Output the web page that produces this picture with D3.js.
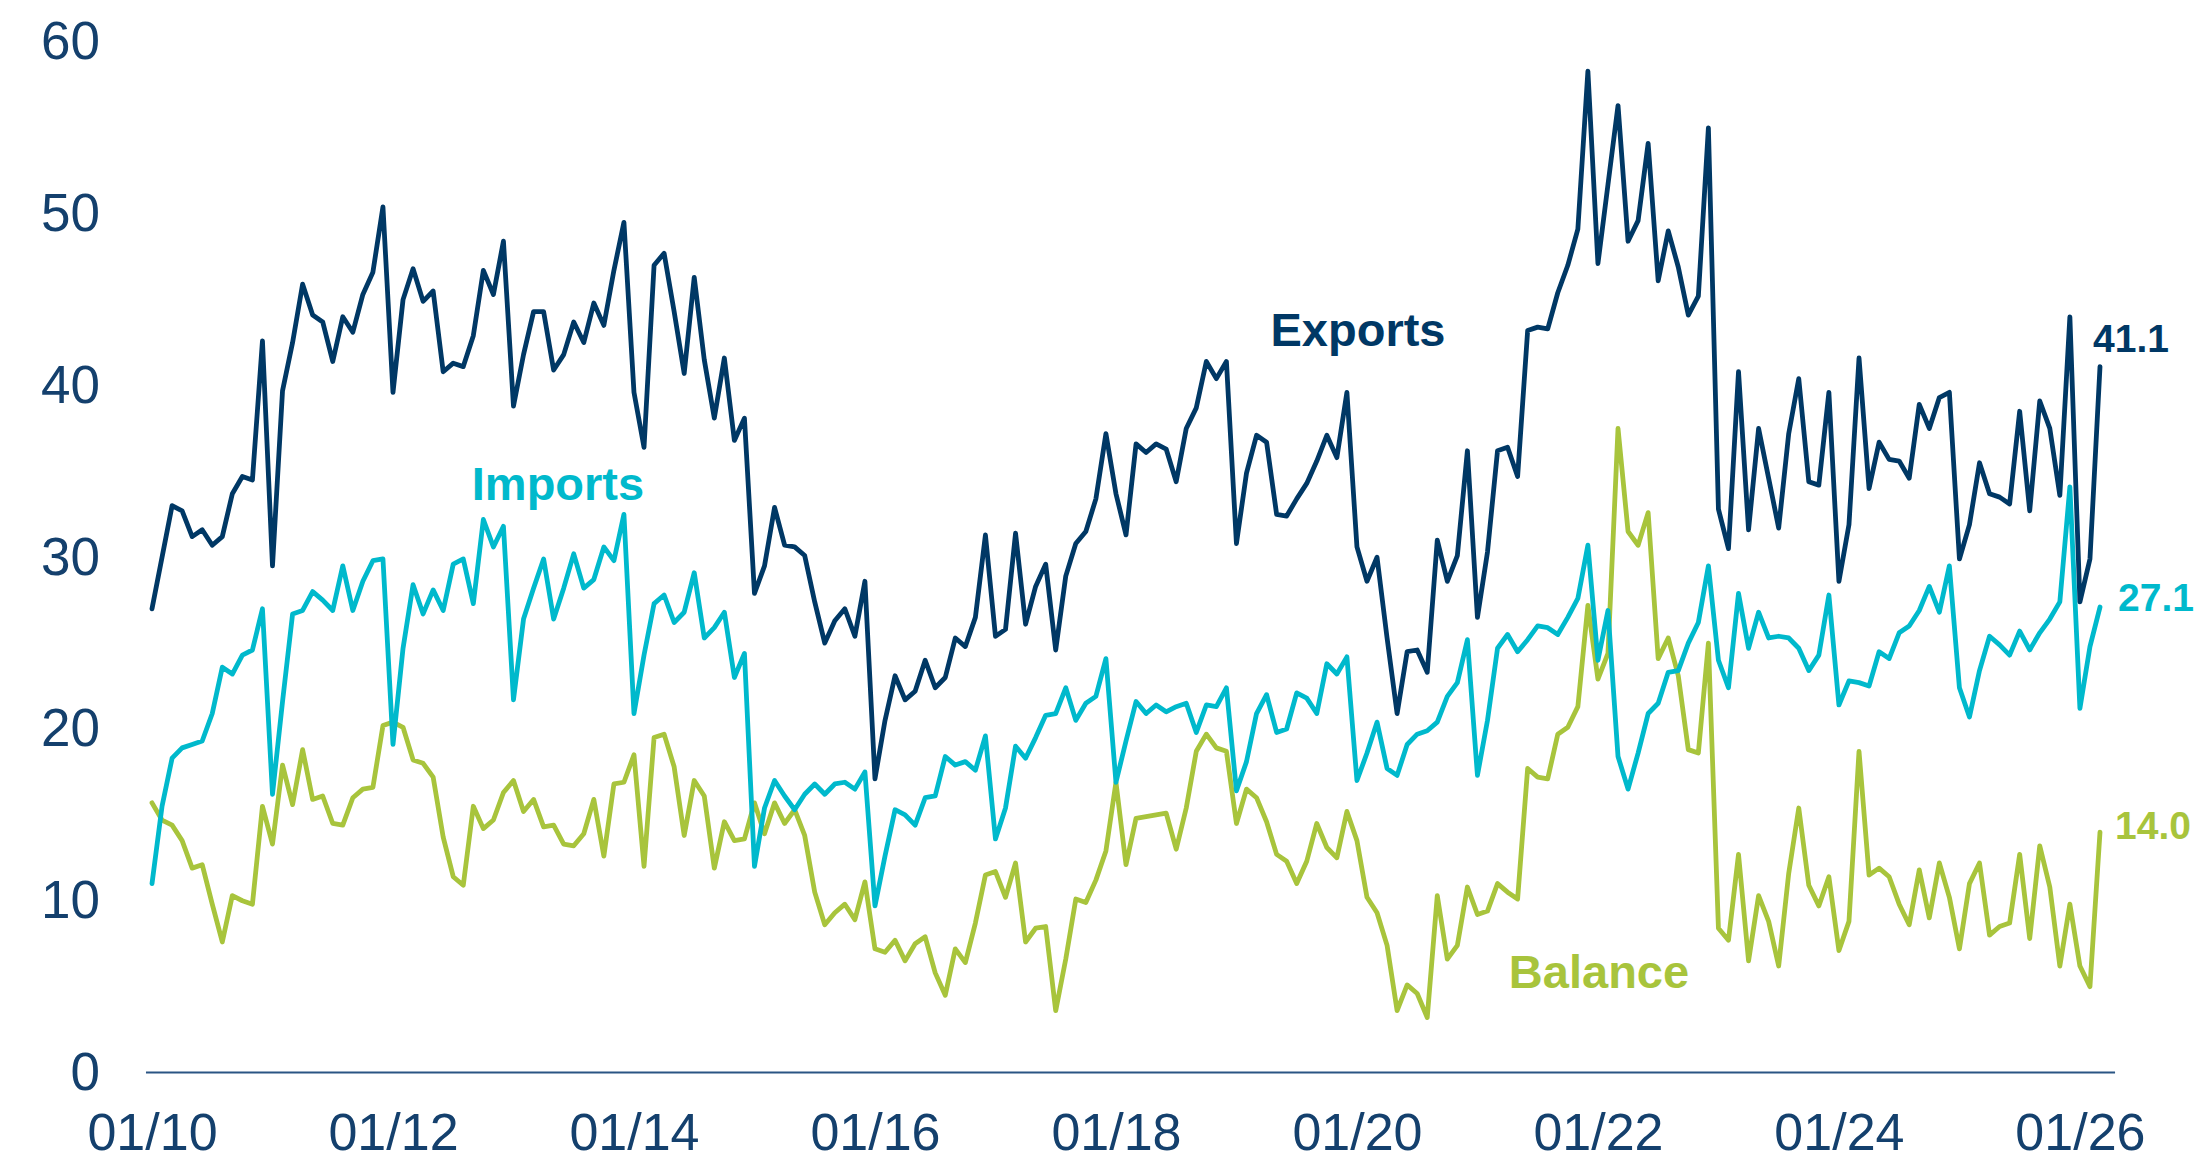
<!DOCTYPE html>
<html lang="en">
<head>
<meta charset="utf-8">
<script src="https://d3js.org/d3.v7.min.js"></script>
<style>
  body { margin: 0; background: #fff; }
  text { font-family: "Liberation Sans", Arial, sans-serif; }
</style>
</head>
<body>
<div id="chart"></div>
<script>

// monthly values, Jan 2010 .. Mar 2026
var exportsVals = [
  27.0,30.0,33.0,32.7,31.2,31.6,30.7,31.2,33.7,34.7,34.5,42.6,
  29.5,39.7,42.5,45.9,44.1,43.7,41.4,44.0,43.1,45.3,46.6,50.4,
  39.6,45.0,46.8,44.9,45.5,40.8,41.3,41.1,42.9,46.7,45.3,48.4,
  38.8,41.8,44.3,44.3,40.9,41.8,43.7,42.5,44.8,43.5,46.7,49.5,
  39.6,36.4,47.0,47.7,44.3,40.7,46.3,41.5,38.1,41.6,36.8,38.1,
  27.9,29.5,32.9,30.7,30.6,30.1,27.4,25.0,26.3,27.0,25.4,28.6,
  17.1,20.5,23.1,21.7,22.2,24.0,22.4,23.0,25.3,24.8,26.5,31.3,
  25.4,25.8,31.4,26.1,28.3,29.6,24.6,28.9,30.8,31.5,33.4,37.2,
  33.7,31.3,36.6,36.1,36.6,36.3,34.4,37.5,38.7,41.4,40.4,41.4,
  30.8,34.9,37.1,36.7,32.5,32.4,33.4,34.3,35.6,37.1,35.8,39.6,
  30.6,28.6,30.0,25.3,20.9,24.5,24.6,23.3,31.0,28.6,30.1,36.2,
  26.5,30.3,36.2,36.4,34.7,43.2,43.4,43.3,45.4,47.0,49.1,58.3,
  47.1,51.7,56.3,48.4,49.6,54.1,46.1,49.0,46.9,44.1,45.2,55.0,
  32.8,30.5,40.8,31.6,37.5,34.6,31.7,37.2,40.4,34.4,34.2,39.6,
  28.6,31.9,41.6,34.0,36.7,35.7,35.6,34.6,38.9,37.5,39.3,39.6,
  29.9,31.9,35.5,33.7,33.5,33.1,38.5,32.7,39.1,37.5,33.6,44.0,
  27.4,29.9,41.1
];

var importsVals = [
  11.0,15.5,18.3,18.9,19.1,19.3,20.9,23.6,23.2,24.3,24.6,27.0,
  16.2,21.6,26.7,26.9,28.0,27.5,26.9,29.5,26.9,28.6,29.8,29.9,
  19.1,24.7,28.4,26.7,28.1,26.9,29.6,29.9,27.3,32.2,30.6,31.8,
  21.7,26.4,28.2,29.9,26.4,28.2,30.2,28.2,28.7,30.6,29.8,32.5,
  20.9,24.3,27.3,27.8,26.2,26.8,29.1,25.3,25.9,26.8,23.0,24.4,
  12.0,15.4,17.0,16.1,15.3,16.2,16.8,16.2,16.8,16.9,16.5,17.5,
  9.7,12.6,15.3,15.0,14.4,16.0,16.1,18.4,17.9,18.1,17.6,19.6,
  13.6,15.4,19.0,18.3,19.5,20.8,20.9,22.4,20.5,21.5,21.9,24.1,
  16.9,19.3,21.6,20.9,21.4,21.0,21.3,21.5,19.8,21.4,21.3,22.4,
  16.4,18.1,20.9,22.0,19.8,20.0,22.1,21.8,20.9,23.8,23.2,24.2,
  17.0,18.6,20.4,17.7,17.3,19.1,19.7,19.9,20.4,21.9,22.7,25.2,
  17.3,20.5,24.7,25.5,24.5,25.2,26.0,25.9,25.5,26.5,27.6,30.7,
  24.0,26.9,18.4,16.5,18.6,20.9,21.5,23.3,23.4,25.0,26.2,29.5,
  24.0,22.4,27.9,24.7,26.8,25.3,25.4,25.3,24.7,23.4,24.3,27.8,
  21.4,22.8,22.7,22.5,24.5,24.1,25.6,26.0,26.9,28.3,26.8,29.5,
  22.4,20.7,23.4,25.4,24.9,24.3,25.7,24.6,25.6,26.4,27.4,34.1,
  21.2,24.8,27.1
];

var balanceVals = [
  15.7,14.7,14.4,13.5,11.9,12.1,9.8,7.6,10.3,10.0,9.8,15.5,
  13.3,17.9,15.6,18.8,15.9,16.1,14.5,14.4,16.0,16.5,16.6,20.2,
  20.4,20.1,18.2,18.0,17.2,13.7,11.4,10.9,15.5,14.2,14.7,16.3,
  17.0,15.2,15.9,14.3,14.4,13.3,13.2,13.9,15.9,12.6,16.8,16.9,
  18.5,12.0,19.5,19.7,17.8,13.8,17.0,16.1,11.9,14.6,13.5,13.6,
  15.7,13.9,15.7,14.5,15.3,13.8,10.5,8.6,9.3,9.8,8.9,11.1,
  7.2,7.0,7.7,6.5,7.5,7.9,5.8,4.5,7.2,6.4,8.7,11.5,
  11.7,10.2,12.2,7.6,8.4,8.5,3.6,6.6,10.1,9.9,11.2,12.9,
  16.9,12.1,14.8,14.9,15.0,15.1,13.0,15.4,18.7,19.7,18.9,18.7,
  14.5,16.5,16.0,14.6,12.7,12.3,11.0,12.3,14.5,13.1,12.5,15.2,
  13.5,10.2,9.3,7.4,3.6,5.1,4.6,3.2,10.3,6.6,7.4,10.8,
  9.2,9.4,11.0,10.5,10.1,17.7,17.2,17.1,19.7,20.1,21.3,27.2,
  22.9,24.4,37.5,31.5,30.7,32.6,24.1,25.3,23.1,18.8,18.6,25.0,
  8.4,7.7,12.7,6.5,10.3,8.8,6.2,11.6,15.4,10.9,9.7,11.4,
  7.1,8.8,18.7,11.5,11.9,11.4,9.8,8.6,11.8,9.0,12.2,10.2,
  7.2,11.0,12.2,8.0,8.5,8.7,12.7,7.8,13.2,10.8,6.2,9.8,
  6.2,5.0,14.0
];

var yTicks = [0, 10, 20, 30, 40, 50, 60];
var xTickMonths = [0, 24, 48, 72, 96, 120, 144, 168, 192];
var xTickLabels = ["01/10", "01/12", "01/14", "01/16", "01/18", "01/20", "01/22", "01/24", "01/26"];

var W = 2196, H = 1163;
var textColor = "#14406d";

var svg = d3.select("#chart").append("svg")
  .attr("width", W)
  .attr("height", H);

var x = d3.scaleLinear().domain([0, 194]).range([152, 2100]);
var y = d3.scaleLinear().domain([0, 60]).range([1072.5, 42]);

// y axis, labels only
var yAxis = svg.append("g")
  .attr("transform", "translate(146,0)")
  .call(d3.axisLeft(y).tickValues(yTicks).tickSize(0).tickPadding(46));
yAxis.select(".domain").remove();
yAxis.selectAll("text")
  .style("font-size", "53px")
  .style("font-family", "'Liberation Sans', Arial, sans-serif")
  .attr("fill", textColor);

// x axis
var xAxis = svg.append("g")
  .attr("transform", "translate(0," + y(0) + ")")
  .call(d3.axisBottom(x).tickValues(xTickMonths).tickSize(0).tickPadding(41)
    .tickFormat(function(d, i) { return xTickLabels[i]; }));
xAxis.select(".domain").remove();
xAxis.selectAll("text")
  .style("font-size", "52px")
  .style("font-family", "'Liberation Sans', Arial, sans-serif")
  .attr("fill", textColor);

svg.append("line")
  .attr("x1", x(-0.6)).attr("x2", x(195.5))
  .attr("y1", y(0)).attr("y2", y(0))
  .attr("stroke", "#2a5584")
  .attr("stroke-width", 2);

var series = [
  { name: "Balance", vals: balanceVals, color: "#a8c43c" },
  { name: "Imports", vals: importsVals, color: "#00b9cc" },
  { name: "Exports", vals: exportsVals, color: "#003865" }
];

var line = d3.line()
  .x(function(d, i) { return x(i); })
  .y(function(d) { return y(d); });

series.forEach(function(s) {
  svg.append("path")
    .datum(s.vals)
    .attr("d", line)
    .attr("fill", "none")
    .attr("stroke", s.color)
    .attr("stroke-width", 4.8)
    .attr("stroke-linejoin", "round")
    .attr("stroke-linecap", "round");
});

// series names
var names = [
  { t: "Exports", x: 1358, y: 346, c: "#003865" },
  { t: "Imports", x: 558, y: 500, c: "#00b9cc" },
  { t: "Balance", x: 1599, y: 988, c: "#a8c43c" }
];
svg.selectAll(".name")
  .data(names)
  .enter().append("text")
    .attr("x", function(d) { return d.x; })
    .attr("y", function(d) { return d.y; })
    .attr("text-anchor", "middle")
    .attr("fill", function(d) { return d.c; })
    .style("font-size", "47px")
    .style("font-weight", "bold")
    .text(function(d) { return d.t; });

// last values
var last = exportsVals.length - 1;
var endLabels = [
  { v: exportsVals[last], dx: -7, dy: -15, c: "#003865" },
  { v: importsVals[last], dx: 18, dy: 4, c: "#00b9cc" },
  { v: balanceVals[last], dx: 15, dy: 7, c: "#a8c43c" }
];
svg.selectAll(".endlab")
  .data(endLabels)
  .enter().append("text")
    .attr("x", function(d) { return x(last) + d.dx; })
    .attr("y", function(d) { return y(d.v) + d.dy; })
    .attr("fill", function(d) { return d.c; })
    .style("font-size", "39px")
    .style("font-weight", "bold")
    .text(function(d) { return d.v.toFixed(1); });

</script>
</body>
</html>
